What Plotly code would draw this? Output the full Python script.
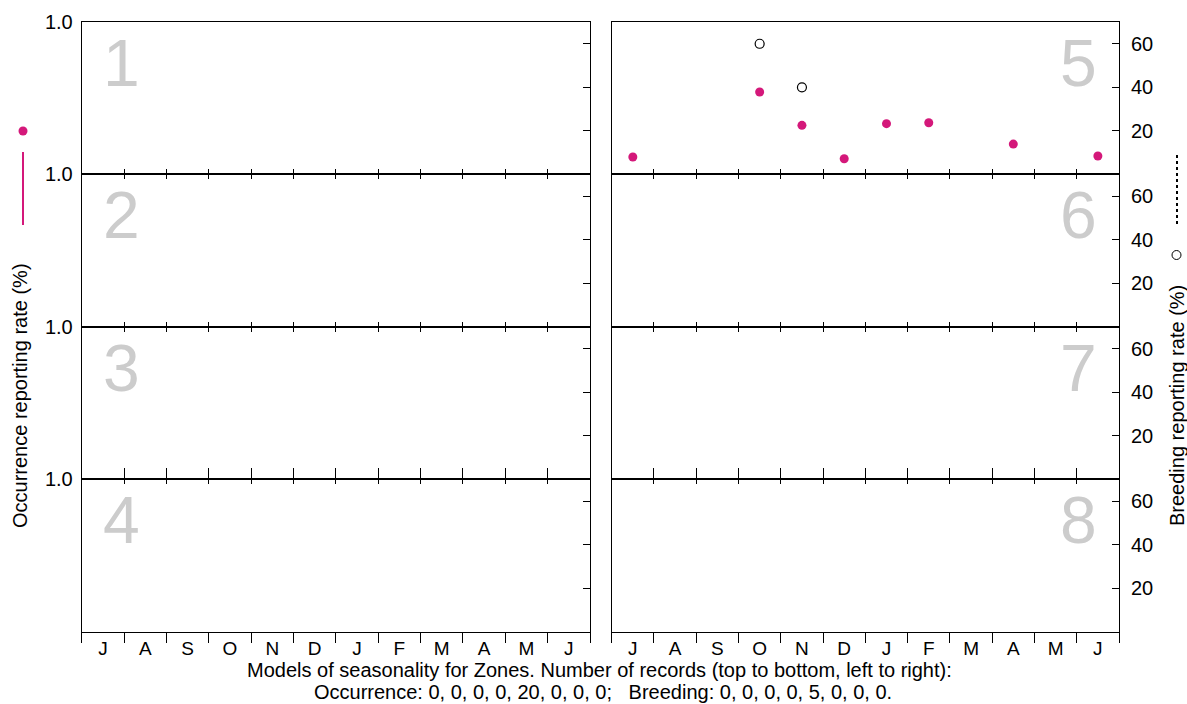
import plotly.graph_objects as go

# ---------------- data ----------------
months = ["J", "A", "S", "O", "N", "D", "J", "F", "M", "A", "M", "J"]
zones = [1, 2, 3, 4, 5, 6, 7, 8]
occ_records = [0, 0, 0, 0, 20, 0, 0, 0]
breed_records = [0, 0, 0, 0, 5, 0, 0, 0]
# zone 5 occurrence (fraction, left axis) and breeding (%, right axis), by month
occ_zone5 = [0.114, None, None, 0.541, 0.322, 0.103, 0.333, 0.339, None, 0.199, None, 0.121]
breed_zone5 = [None, None, None, 60, 40, None, None, None, None, None, None, None]
occ_ticks = [1.0]
breed_ticks = [20, 40, 60]

W, H = 1187, 704
FONT = "Liberation Sans, Arial, sans-serif"
FS = 20
PINK = "#d4187a"
GREY_NUM = "#cccccc"

col_x = [(81.7, 590.0), (611.7, 1119.0)]
top0, row_h = 22.0, 152.42

fig = go.Figure()
layout = dict(
    width=W, height=H, autosize=False,
    margin=dict(l=0, r=0, t=0, b=0, pad=0, autoexpand=False),
    paper_bgcolor="white", plot_bgcolor="white",
    showlegend=False,
    font=dict(family=FONT, size=FS, color="black"),
)

annotations = []
for k in zones:
    col = 0 if k <= 4 else 1
    row = (k - 1) % 4
    x0, x1 = col_x[col]
    t = top0 + row * row_h
    b = t + row_h
    ydom = [1 - b / H, 1 - t / H]
    xdom = [x0 / W, x1 / W]
    xn, yn, yr = f"xaxis{k}", f"yaxis{k}", f"yaxis{k+8}"
    bottom = row == 3
    layout[xn] = dict(
        domain=xdom, anchor=f"y{k}", range=[0, 12], automargin=False,
        tickmode="array", tickvals=[i + 0.5 for i in range(12)], ticktext=months,
        ticks="", showticklabels=bottom, ticklabelstandoff=0,
        showline=True, linecolor="black", linewidth=1,
        mirror=("ticks" if row > 0 else True),
        showgrid=False, zeroline=False, fixedrange=True,
        minor=dict(ticks="outside", tickmode="array", tickvals=list(range(13)),
                   ticklen=(10 if bottom else 4), tickcolor="black", tickwidth=1,
                   showgrid=False),
        tickfont=dict(size=19, color="black"),
    )
    layout[yn] = dict(
        domain=ydom, anchor=f"x{k}", range=[0, 1.0], automargin=False,
        tickmode="array", tickvals=occ_ticks, ticktext=["1.0"],
        ticks="inside", ticklen=7, tickcolor="black", tickwidth=1.5,
        showticklabels=(col == 0), ticklabelstandoff=4,
        showline=True, linecolor="black", linewidth=1, mirror=True,
        showgrid=False, zeroline=False, fixedrange=True,
        tickfont=dict(size=FS, color="black"),
    )
    layout[yr] = dict(
        overlaying=f"y{k}", anchor=f"x{k}", side="right", range=[0, 70], automargin=False,
        tickmode="array", tickvals=breed_ticks, ticktext=[str(v) for v in breed_ticks],
        ticks="inside", ticklen=7, tickcolor="black", tickwidth=1,
        showticklabels=(col == 1), ticklabelstandoff=11,
        showline=False, showgrid=False, zeroline=False, fixedrange=True,
        tickfont=dict(size=FS, color="black"),
    )
    # empty traces so every axis pair is drawn
    fig.add_trace(go.Scatter(x=[None], y=[None], xaxis=f"x{k}", yaxis=f"y{k}",
                             mode="markers", hoverinfo="skip"))
    fig.add_trace(go.Scatter(x=[None], y=[None], xaxis=f"x{k}", yaxis=f"y{k+8}",
                             mode="markers", hoverinfo="skip"))
    # big zone number
    if col == 0:
        annotations.append(dict(text=str(k), xref="paper", yref="paper",
                                x=101 / W, y=1 - (t + 41) / H, xanchor="left", yanchor="middle",
                                showarrow=False, font=dict(size=66, color=GREY_NUM, family=FONT)))
    else:
        annotations.append(dict(text=str(k), xref="paper", yref="paper",
                                x=1099 / W, y=1 - (t + 41) / H, xanchor="right", yanchor="middle",
                                showarrow=False, font=dict(size=66, color=GREY_NUM, family=FONT)))

# data traces (zone 5)
xc = [i + 0.5 for i in range(12)]
fig.add_trace(go.Scatter(x=xc, y=occ_zone5, mode="markers", xaxis="x5", yaxis="y5",
                         marker=dict(size=9, color=PINK, line=dict(width=0)),
                         name="Occurrence", cliponaxis=False))
fig.add_trace(go.Scatter(x=xc, y=breed_zone5, mode="markers", xaxis="x5", yaxis="y13",
                         marker=dict(size=9, color="white", symbol="circle",
                                     line=dict(width=1.2, color="black")),
                         name="Breeding", cliponaxis=False))

# axis titles
annotations.append(dict(text="Occurrence reporting rate (%)", xref="paper", yref="paper",
                        x=20 / W, y=1 - 396 / H, textangle=-90, showarrow=False,
                        xanchor="center", yanchor="middle", font=dict(size=FS, color="black")))
annotations.append(dict(text="Breeding reporting rate (%)", xref="paper", yref="paper",
                        x=1177 / W, y=1 - 406 / H, textangle=-90, showarrow=False,
                        xanchor="center", yanchor="middle", font=dict(size=FS, color="black")))

# footer text
occ_txt = ", ".join(str(v) for v in occ_records)
br_txt = ", ".join(str(v) for v in breed_records)
annotations.append(dict(text="Models of seasonality for Zones. Number of records (top to bottom, left to right):",
                        xref="paper", yref="paper", x=600 / W, y=1 - 670 / H, showarrow=False,
                        xanchor="center", yanchor="middle", font=dict(size=FS, color="black")))
annotations.append(dict(text=f"Occurrence: {occ_txt};&nbsp;&nbsp;&nbsp;Breeding: {br_txt}.",
                        xref="paper", yref="paper", x=603 / W, y=1 - 692 / H, showarrow=False,
                        xanchor="center", yanchor="middle", font=dict(size=FS, color="black")))

layout["annotations"] = annotations

# legend glyphs beside axis titles
def px(x):
    return x / W

def py(y):
    return 1 - y / H

shapes = [
    dict(type="circle", xref="paper", yref="paper", x0=px(18.5), x1=px(27.5), y0=py(135.5), y1=py(126.5),
         fillcolor=PINK, line=dict(width=0)),
    dict(type="line", xref="paper", yref="paper", x0=px(23), x1=px(23), y0=py(152), y1=py(225),
         line=dict(color=PINK, width=2)),
    dict(type="line", xref="paper", yref="paper", x0=px(1177), x1=px(1177), y0=py(155), y1=py(226),
         line=dict(color="black", width=2, dash="dot")),
    dict(type="circle", xref="paper", yref="paper", x0=px(1172), x1=px(1181), y0=py(259.5), y1=py(250.5),
         fillcolor="white", line=dict(width=1, color="black")),
]
layout["shapes"] = shapes

fig.update_layout(**layout)
fig.write_html("out.html", config={"displayModeBar": False, "responsive": False},
               post_script="document.body.style.margin='0';document.body.style.padding='0';")
